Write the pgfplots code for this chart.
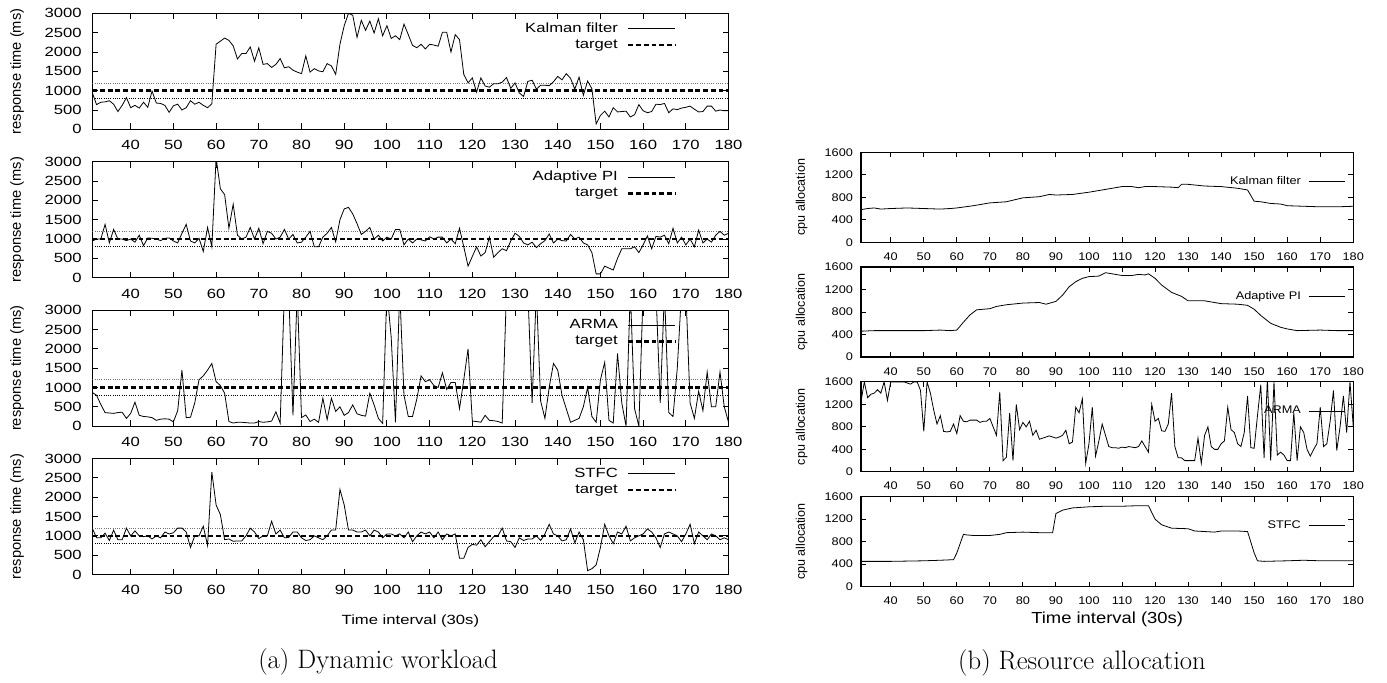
\documentclass[border=0pt]{standalone}
\usepackage{fontspec}
\usepackage{pgfplots}
\pgfplotsset{compat=1.18}
\newfontfamily\hvL[FakeStretch=1.25]{Liberation Sans}
\newfontfamily\hvR[FakeStretch=1.15]{Liberation Sans}
\newfontfamily\hv{Liberation Sans}

\pgfplotsset{
  base/.style={scale only axis, xmin=31, xmax=180, clip=true,
    xtick={40,50,...,180},
    axis line style={line width=0.9pt},
    every tick/.style={black, line width=0.7pt},
    scaled ticks=false,
    /pgf/number format/1000 sep={},
    /pgf/number format/assume math mode=true,
    legend plot pos=right, legend cell align=right,
  },
  leftax/.style={base, width=477.2pt, height=87pt, ymin=0, ymax=3000,
    ytick={0,500,...,3000}, major tick length=4.5pt,
    tick label style={font=\hvL\fontsize{10}{12}\selectfont},
    yticklabel style={xshift=-4.4pt},
    xticklabel style={yshift=-4.7pt},
    ylabel={response time (ms)},
    ylabel style={font=\hv\fontsize{11}{13}\selectfont, at={(axis description cs:-0.118,0.5)}, anchor=center},
    legend style={draw=none, fill=none, at={(1,1)}, anchor=north east, xshift=-36pt, yshift=-3pt,
      column sep=5pt, font=\hvL\fontsize{10}{12}\selectfont},
    legend image code/.code={\draw[##1] (0pt,0pt) -- (35pt,0pt);},
  },
  rightax/.style={base, width=369.2pt, height=67.5pt, ymin=0, ymax=1600,
    ytick={0,400,...,1600}, major tick length=3.75pt,
    tick label style={font=\hvR\fontsize{8.3}{10}\selectfont},
    yticklabel style={xshift=-2.5pt},
    xticklabel style={yshift=-4.2pt},
    ylabel={cpu allocation},
    ylabel style={font=\hv\fontsize{9.4}{11}\selectfont, at={(axis description cs:-0.1205,0.5)}, anchor=center},
    legend style={draw=none, fill=none, at={(1,1)}, anchor=north east, xshift=-2.5pt, yshift=-14pt,
      column sep=3.5pt, font=\hvR\fontsize{8.3}{10}\selectfont},
    legend image code/.code={\draw[##1] (0pt,0pt) -- (27.5pt,0pt);},
  },
  dat/.style={black, line width=0.6pt},
  tgt/.style={black, line width=1.8pt, dash pattern=on 3.6pt off 2.2pt},
  dotA/.style={black!55, line width=0.55pt, dash pattern=on 0.6pt off 1.1pt},
  dotB/.style={black, line width=0.55pt, dash pattern=on 0.6pt off 1.1pt},
}

\pgfplotstableread{
x y
31 950
32 640
33 700
34 710
35 740
36 650
37 460
38 620
39 820
40 560
41 620
42 550
43 700
44 570
45 990
46 680
47 670
48 620
49 440
50 610
51 650
52 500
53 560
54 740
55 650
56 700
57 620
58 560
59 660
60 2200
61 2280
62 2360
63 2300
64 2160
65 1820
66 1960
67 1960
68 2130
69 1760
70 2110
71 1680
72 1700
73 1600
74 1680
75 1830
76 1590
77 1620
78 1530
79 1480
80 1440
81 1900
82 1480
83 1570
84 1510
85 1490
86 1700
87 1640
88 1420
89 2200
90 2680
91 3000
92 2950
93 2380
94 2820
95 2560
96 2800
97 2490
98 2860
99 2420
100 2680
101 2350
102 2420
103 2320
104 2720
105 2450
106 2170
107 2110
108 2200
109 2080
110 2200
111 2180
112 2150
113 2510
114 2510
115 2000
116 2450
117 2320
118 1420
119 1200
120 1330
121 960
122 1330
123 1120
124 1090
125 1180
126 1180
127 1220
128 1340
129 1060
130 1200
131 940
132 850
133 1240
134 1270
135 1040
136 1140
137 1140
138 1130
139 1230
140 1370
141 1280
142 1440
143 1320
144 1040
145 1350
146 880
147 1250
148 1050
149 140
150 360
151 470
152 320
153 560
154 450
155 460
156 470
157 320
158 380
159 640
160 480
161 430
162 460
163 650
164 640
165 670
166 430
167 530
168 510
169 550
170 570
171 600
172 520
173 450
174 460
175 600
176 600
177 470
178 500
179 480
180 480
}\rtKalman

\pgfplotstableread{
x y
31 950
32 1000
33 1000
34 1380
35 900
36 1250
37 1000
38 1000
39 960
40 1000
41 920
42 1100
43 830
44 1030
45 1020
46 1000
47 960
48 1020
49 1030
50 950
51 900
52 1150
53 1380
54 950
55 900
56 1020
57 680
58 1300
59 800
60 3100
61 2300
62 2150
63 1280
64 1900
65 1100
66 1000
67 1050
68 1300
69 1000
70 1280
71 880
72 1200
73 1150
74 1000
75 1050
76 1250
77 1000
78 1120
79 900
80 920
81 1050
82 1200
83 800
84 800
85 1050
86 1150
87 1300
88 930
89 1500
90 1780
91 1820
92 1650
93 1400
94 1120
95 1200
96 1300
97 1000
98 1100
99 950
100 1050
101 1000
102 1250
103 1250
104 850
105 1000
106 900
107 1000
108 980
109 950
110 1060
111 1000
112 1050
113 1050
114 900
115 1000
116 880
117 1280
118 800
119 300
120 550
121 800
122 560
123 650
124 1050
125 530
126 650
127 750
128 700
129 950
130 1150
131 1070
132 900
133 850
134 920
135 780
136 880
137 960
138 1130
139 900
140 1000
141 960
142 950
143 1120
144 1000
145 1050
146 900
147 850
148 650
149 100
150 100
151 300
152 250
153 200
154 500
155 750
156 750
157 750
158 800
159 650
160 850
161 1080
162 750
163 1070
164 1050
165 1100
166 880
167 1280
168 900
169 1050
170 850
171 1000
172 800
173 1230
174 900
175 1000
176 920
177 1100
178 1200
179 1100
180 1150
}\rtPI

\pgfplotstableread{
x y
31 870
32 800
33 560
34 350
35 340
36 330
37 350
38 360
39 200
40 330
41 620
42 280
43 250
44 240
45 220
46 150
47 180
48 190
49 180
50 110
51 400
52 1450
53 220
54 230
55 600
56 1200
57 1300
58 1450
59 1620
60 1150
61 1050
62 850
63 120
64 80
65 100
66 100
67 90
68 80
69 80
70 120
71 100
72 110
73 130
74 370
75 80
76 3500
77 3500
78 280
79 3500
80 220
81 290
82 120
83 180
84 100
85 720
86 170
87 720
88 380
89 500
90 280
91 350
92 550
93 320
94 280
95 260
96 850
97 550
98 200
99 70
100 3500
101 2300
102 100
103 3500
104 800
105 250
106 250
107 700
108 1300
109 1150
110 1200
111 1050
112 1000
113 1380
114 950
115 1130
116 1130
117 450
118 1200
119 2000
120 130
121 120
122 100
123 280
124 150
125 140
126 120
127 80
128 3500
129 3500
130 3500
131 3500
132 3500
133 3500
134 600
135 3500
136 650
137 200
138 1000
139 1620
140 1450
141 800
142 450
143 100
144 150
145 200
146 500
147 1000
148 250
149 100
150 1200
151 1650
152 150
153 80
154 1880
155 600
156 0
157 3500
158 450
159 0
160 3500
161 3500
162 3500
163 3500
164 600
165 3500
166 350
167 250
168 1500
169 3500
170 3500
171 600
172 200
173 900
174 400
175 1400
176 500
177 500
178 1400
179 500
180 100
}\rtARMA

\pgfplotstableread{
x y
31 1200
32 950
33 950
34 1070
35 880
36 1150
37 900
38 900
39 1200
40 1000
41 1130
42 1000
43 980
44 1000
45 920
46 1000
47 950
48 1100
49 1050
50 1080
51 1200
52 1200
53 1100
54 700
55 1000
56 1000
57 1250
58 750
59 2650
60 1800
61 1550
62 900
63 920
64 860
65 870
66 870
67 1000
68 1200
69 1100
70 930
71 1000
72 1000
73 1380
74 1050
75 1150
76 950
77 960
78 1100
79 1100
80 950
81 880
82 900
83 1000
84 950
85 900
86 1000
87 1150
88 1150
89 2200
90 1800
91 1150
92 1150
93 1100
94 1100
95 1150
96 1000
97 1150
98 1100
99 950
100 1050
101 1050
102 1000
103 1050
104 950
105 1100
106 850
107 1000
108 1100
109 1050
110 1100
111 950
112 1100
113 900
114 1050
115 1000
116 1050
117 420
118 420
119 700
120 780
121 760
122 900
123 720
124 850
125 980
126 1000
127 1200
128 870
129 850
130 700
131 950
132 880
133 920
134 920
135 1000
136 880
137 1050
138 1300
139 1050
140 1000
141 870
142 900
143 1180
144 820
145 1100
146 900
147 100
148 150
149 250
150 700
151 1300
152 1000
153 800
154 1100
155 1050
156 1250
157 870
158 950
159 1000
160 1050
161 1180
162 1100
163 950
164 700
165 1050
166 1100
167 1050
168 1000
169 850
170 1050
171 1300
172 800
173 1100
174 1000
175 900
176 1050
177 1000
178 900
179 950
180 900
}\rtSTFC

\pgfplotstableread{
x y
31 580
33 600
35 610
37 590
40 600
45 610
50 600
55 590
58 600
60 610
65 650
70 700
75 720
80 790
85 810
88 850
90 840
95 850
100 890
105 940
110 990
113 990
115 970
117 990
120 990
125 980
127 970
128 1030
130 1030
135 1000
140 990
145 960
148 930
150 730
152 720
155 690
158 680
160 650
165 640
170 630
175 630
180 640
}\cpuKalman

\pgfplotstableread{
x y
31 460
35 470
40 470
50 470
55 480
58 470
60 480
62 620
64 750
66 840
70 860
72 900
75 930
80 960
85 970
87 940
90 990
92 1100
94 1250
96 1340
98 1400
100 1430
103 1440
105 1500
108 1470
110 1450
113 1450
115 1470
117 1460
118 1480
120 1400
122 1280
125 1150
128 1080
130 1000
135 1000
140 950
145 940
148 920
150 850
152 740
155 600
158 530
160 500
163 470
170 480
175 470
180 470
}\cpuPI

\pgfplotstableread{
x y
31 1250
32 1600
33 1320
34 1380
35 1400
36 1460
37 1400
38 1600
39 1270
40 1600
41 1600
42 1600
43 1600
44 1600
45 1580
46 1560
47 1600
48 1600
49 1450
50 720
51 1600
52 1400
53 1100
54 850
55 1000
56 720
57 710
58 720
59 850
60 680
61 1000
62 900
63 890
64 920
65 920
66 920
67 880
68 900
69 900
70 950
71 800
72 650
73 1420
74 200
75 260
76 1050
77 200
78 1200
79 750
80 880
81 800
82 900
83 650
84 740
85 580
86 600
87 620
88 640
89 620
90 600
91 620
92 650
93 740
94 500
95 530
96 1150
97 1050
98 1300
99 150
100 500
101 1150
102 280
103 550
104 850
105 650
106 450
107 430
108 430
109 420
110 440
111 430
112 450
113 440
114 430
115 450
116 550
117 450
118 350
119 1200
120 900
121 950
122 730
123 720
124 850
125 1400
126 450
127 250
128 250
129 200
130 200
131 200
132 200
133 600
134 150
135 650
136 800
137 450
138 400
139 400
140 500
141 550
142 1150
143 750
144 700
145 500
146 450
147 700
148 1350
149 430
150 420
151 1000
152 1550
153 250
154 1650
155 200
156 1600
157 300
158 350
159 300
160 200
161 200
162 1050
163 200
164 800
165 700
166 400
167 280
168 400
169 500
170 1150
171 450
172 500
173 900
174 1450
175 380
176 800
177 1350
178 700
179 1600
180 800
}\cpuARMA

\pgfplotstableread{
x y
31 450
40 450
50 460
55 470
59 480
60 600
62 930
63 920
65 910
70 910
73 930
75 960
80 970
85 960
89 960
90 1300
92 1360
95 1400
100 1420
105 1430
110 1430
115 1440
118 1440
120 1200
122 1100
125 1040
130 1030
132 990
135 980
138 970
140 990
145 990
148 980
150 600
151 460
153 450
160 460
165 470
170 460
180 460
}\cpuSTFC

\begin{document}
\begin{tikzpicture}
\path[use as bounding box] (0pt,0pt) rectangle (1040.25pt,-511.5pt);

% ---------- left panel ----------
\begin{axis}[leftax, at={(69.2pt,-10pt)}, anchor=north west]
\addplot[dotA, forget plot] coordinates {(31,1200) (180,1200)};
\addplot[dotB, forget plot] coordinates {(31,800) (180,800)};
\addplot[dat] table[x=x,y=y] {\rtKalman};
\addlegendentry{Kalman filter}
\addplot[tgt] coordinates {(31,1000) (180,1000)};
\addlegendentry{target}
\end{axis}

\begin{axis}[leftax, at={(69.2pt,-121.3pt)}, anchor=north west]
\addplot[dotA, forget plot] coordinates {(31,1200) (180,1200)};
\addplot[dotB, forget plot] coordinates {(31,800) (180,800)};
\addplot[dat] table[x=x,y=y] {\rtPI};
\addlegendentry{Adaptive PI}
\addplot[tgt] coordinates {(31,1000) (180,1000)};
\addlegendentry{target}
\end{axis}

\begin{axis}[leftax, at={(69.2pt,-232.6pt)}, anchor=north west]
\addplot[dotA, forget plot] coordinates {(31,1200) (180,1200)};
\addplot[dotB, forget plot] coordinates {(31,800) (180,800)};
\addplot[dat] table[x=x,y=y] {\rtARMA};
\addlegendentry{ARMA}
\addplot[tgt] coordinates {(31,1000) (180,1000)};
\addlegendentry{target}
\end{axis}

\begin{axis}[leftax, at={(69.2pt,-343.9pt)}, anchor=north west,
  xlabel={Time interval (30s)},
  xlabel style={font=\hvL\fontsize{10}{12}\selectfont, at={(axis description cs:0.5,-0.405)}, anchor=center}]
\addplot[dotA, forget plot] coordinates {(31,1200) (180,1200)};
\addplot[dotB, forget plot] coordinates {(31,800) (180,800)};
\addplot[dat] table[x=x,y=y] {\rtSTFC};
\addlegendentry{STFC}
\addplot[tgt] coordinates {(31,1000) (180,1000)};
\addlegendentry{target}
\end{axis}

% ---------- right panel ----------
\begin{axis}[rightax, at={(645.75pt,-114.2pt)}, anchor=north west]
\addplot[dat] table[x=x,y=y] {\cpuKalman};
\addlegendentry{Kalman filter}
\end{axis}

\begin{axis}[rightax, at={(645.75pt,-200.3pt)}, anchor=north west]
\addplot[dat] table[x=x,y=y] {\cpuPI};
\addlegendentry{Adaptive PI}
\end{axis}

\begin{axis}[rightax, at={(645.75pt,-286.4pt)}, anchor=north west]
\addplot[dat] table[x=x,y=y] {\cpuARMA};
\addlegendentry{ARMA}
\end{axis}

\begin{axis}[rightax, at={(645.75pt,-372.5pt)}, anchor=north west,
  xlabel={Time interval (30s)},
  xlabel style={font=\hvR\fontsize{12}{14}\selectfont, at={(axis description cs:0.5,-0.363)}, anchor=center}]
\addplot[dat] table[x=x,y=y] {\cpuSTFC};
\addlegendentry{STFC}
\end{axis}

\node[font=\fontsize{20}{24}\selectfont] at (283.5pt,-496.5pt) {(a) Dynamic workload};
\node[font=\fontsize{20}{24}\selectfont] at (811.5pt,-497pt) {(b) Resource allocation};
\end{tikzpicture}
\end{document}
